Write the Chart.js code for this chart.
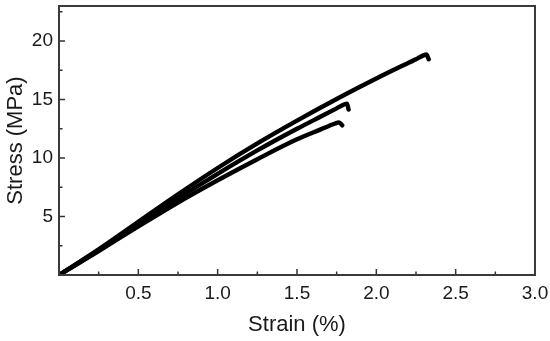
<!DOCTYPE html>
<html>
<head>
<meta charset="utf-8">
<script src="https://cdn.jsdelivr.net/npm/chart.js@4.4.1/dist/chart.umd.min.js"></script>
<style>
  html, body { margin: 0; padding: 0; background: #fff; }
  canvas { display: block; }
</style>
</head>
<body>
<canvas id="graph" width="550" height="341"></canvas>
<script>
    // three tensile samples
    const strainA = [0, 0.25, 0.5, 0.75, 1.0, 1.25, 1.5, 1.75, 2.0, 2.15, 2.25, 2.3, 2.315, 2.33];
    const stressA = [0, 2.2, 4.55, 6.9, 9.15, 11.25, 13.2, 15.05, 16.8, 17.8, 18.45, 18.8, 18.85, 18.45];

    const strainB = [0, 0.25, 0.5, 0.75, 1.0, 1.25, 1.5, 1.65, 1.75, 1.8, 1.815, 1.825];
    const stressB = [0, 2.1, 4.35, 6.55, 8.65, 10.65, 12.5, 13.55, 14.25, 14.6, 14.65, 14.15];

    const strainC = [0, 0.25, 0.5, 0.75, 1.0, 1.25, 1.5, 1.65, 1.74, 1.765, 1.785];
    const stressC = [0, 2.05, 4.15, 6.2, 8.1, 9.9, 11.6, 12.45, 12.95, 13.05, 12.8];

    const xTicks = [0.5, 1.0, 1.5, 2.0, 2.5, 3.0];
    const xTickLabels = ["0.5", "1.0", "1.5", "2.0", "2.5", "3.0"];
    const yTicks = [5, 10, 15, 20];
    const yTickLabels = ["5", "10", "15", "20"];

    const toPoints = (xs, ys) => xs.map((x, i) => ({ x: x, y: ys[i] }));

    const fontFamily = "'Liberation Sans', Arial, sans-serif";
    const ink = "#1a1a1a";

    // inward major/minor ticks + box frame
    const frame = {
      id: "frame",
      afterDraw(chart) {
        const ctx = chart.ctx;
        const a = chart.chartArea;
        const xs = chart.scales.x, ys = chart.scales.y;
        ctx.save();
        ctx.strokeStyle = "#333";
        ctx.lineWidth = 1.5;
        ctx.beginPath();
        xTicks.forEach(v => {
          const px = xs.getPixelForValue(v);
          ctx.moveTo(px, a.bottom); ctx.lineTo(px, a.bottom - 6);
          const pm = xs.getPixelForValue(v - 0.25);
          ctx.moveTo(pm, a.bottom); ctx.lineTo(pm, a.bottom - 3.5);
        });
        yTicks.forEach(v => {
          const py = ys.getPixelForValue(v);
          ctx.moveTo(a.left, py); ctx.lineTo(a.left + 6, py);
          const pm = ys.getPixelForValue(v - 2.5);
          ctx.moveTo(a.left, pm); ctx.lineTo(a.left + 3.5, pm);
        });
        const pTop = ys.getPixelForValue(22.5);
        ctx.moveTo(a.left, pTop); ctx.lineTo(a.left + 3.5, pTop);
        ctx.stroke();
        ctx.lineWidth = 2;
        ctx.strokeStyle = "#3a3a3a";
        ctx.strokeRect(a.left, a.top, a.right - a.left, a.bottom - a.top);
        ctx.restore();
      }
    };

    const curve = (xs, ys) => ({
      data: toPoints(xs, ys),
      borderColor: "#000",
      borderWidth: 4.4,
      borderCapStyle: "round",
      borderJoinStyle: "round",
      pointRadius: 0,
      cubicInterpolationMode: "monotone",
      fill: false
    });

    new Chart(document.getElementById("graph"), {
      type: "line",
      data: {
        datasets: [curve(strainA, stressA), curve(strainB, stressB), curve(strainC, stressC)]
      },
      options: {
        responsive: false,
        animation: false,
        layout: { padding: { top: 6, right: 15, left: 0, bottom: 0 } },
        plugins: { legend: { display: false }, tooltip: { enabled: false } },
        scales: {
          x: {
            type: "linear", min: 0, max: 3,
            grid: { display: false, drawTicks: false },
            border: { display: false },
            afterBuildTicks: s => { s.ticks = xTicks.map(v => ({ value: v })); },
            afterFit: s => { s.height = 66; s.paddingLeft = 0; s.paddingRight = 0; },
            ticks: {
              color: ink, padding: 7, maxRotation: 0, autoSkip: false,
              font: { family: fontFamily, size: 19 },
              callback: (v, i) => xTickLabels[i]
            },
            title: {
              display: true, text: "Strain (%)", color: ink,
              font: { family: fontFamily, size: 22 },
              padding: { top: 0, bottom: 3 }
            }
          },
          y: {
            type: "linear", min: 0, max: 23,
            grid: { display: false, drawTicks: false },
            border: { display: false },
            afterBuildTicks: s => { s.ticks = yTicks.map(v => ({ value: v })); },
            afterFit: s => { s.width = 59; s.paddingTop = 0; s.paddingBottom = 0; },
            ticks: {
              color: ink, padding: 6, autoSkip: false,
              font: { family: fontFamily, size: 19 },
              callback: (v, i) => yTickLabels[i]
            },
            title: {
              display: true, text: "Stress (MPa)", color: ink,
              font: { family: fontFamily, size: 22 },
              padding: { top: 3, bottom: 0 }
            }
          }
        }
      },
      plugins: [frame]
    });
</script>
</body>
</html>
